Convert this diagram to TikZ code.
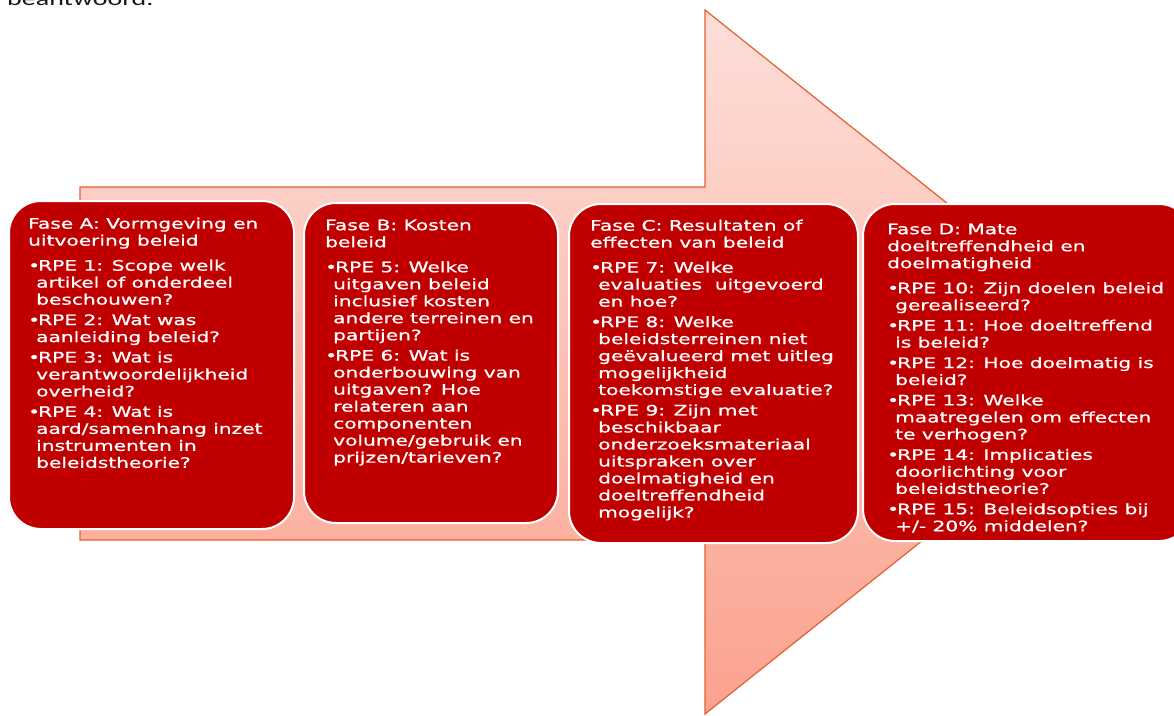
\documentclass[tikz,border=0pt]{standalone}
\usepackage{fontspec}
\usepackage{tikz}
\newfontfamily\fasefont[FakeStretch=1.4,FakeBold=0.8]{DejaVu Sans}
\newfontfamily\bodyfont[FakeStretch=1.4]{Carlito}
\definecolor{faserood}{HTML}{C00000}
\definecolor{pijlrand}{HTML}{E2602F}
\definecolor{pijlboven}{HTML}{FDDED9}
\definecolor{pijlonder}{HTML}{FBA28D}
\newcommand{\opsom}{\makebox[10pt][l]{•}}
\newcommand{\inspr}{\hspace*{8pt}}
\tikzset{
	pijl/.style={draw=pijlrand,line width=1.2pt,top color=pijlboven,bottom color=pijlonder},
	fase/.style={draw=white,line width=2pt,fill=faserood,rounded corners=32pt,anchor=north west,inner sep=0pt},
	fasetekst/.style={text=white,align=left,anchor=north west,inner sep=0pt,font=\fasefont\fontsize{14.4}{17}\selectfont}
}

\begin{document}
\begin{tikzpicture}[x=1pt,y=-1pt]
	\useasboundingbox (0,0) rectangle (1174,715);
	\node[anchor=base west,inner sep=0pt,text=black!90,font=\bodyfont\fontsize{20}{24}\selectfont] (bovenschrift) at (7,5) {beantwoord.};

	% grote pijl
	\draw[pijl] (80,187) -- (705,187) -- (705,10) -- (1146,362) -- (705,714) -- (705,540) -- (80,540) -- cycle;

	\node[fase,minimum width=285pt,minimum height=328pt] (faseA) at (8,200) {};
	\node[fase,minimum width=254pt,minimum height=320pt] (faseB) at (303,202) {};
	\node[fase,minimum width=289pt,minimum height=339pt] (faseC) at (568,203) {};
	\node[fase,minimum width=328pt,minimum height=337pt] (faseD) at (862,203) {};

	\node[fasetekst] (tekstA) at (28,217.5) {Fase A: Vormgeving en\\uitvoering beleid\\[8pt]
		\opsom RPE 1: Scope welk\\ \inspr artikel of onderdeel\\ \inspr beschouwen?\\[3.4pt]
		\opsom RPE 2: Wat was\\ \inspr aanleiding beleid?\\[3.4pt]
		\opsom RPE 3: Wat is\\ \inspr verantwoordelijkheid\\ \inspr overheid?\\[3.4pt]
		\opsom RPE 4: Wat is\\ \inspr aard/samenhang inzet\\ \inspr instrumenten in\\ \inspr beleidstheorie?};
	\node[fasetekst] (tekstB) at (325,219.5) {Fase B: Kosten\\beleid\\[8pt]
		\opsom RPE 5: Welke\\ \inspr uitgaven beleid\\ \inspr inclusief kosten\\ \inspr andere terreinen en\\ \inspr partijen?\\[3.4pt]
		\opsom RPE 6: Wat is\\ \inspr onderbouwing van\\ \inspr uitgaven? Hoe\\ \inspr relateren aan\\ \inspr componenten\\ \inspr volume/gebruik en\\ \inspr prijzen/tarieven?};
	\node[fasetekst] (tekstC) at (590,219.5) {Fase C: Resultaten of\\effecten van beleid\\[8pt]
		\opsom RPE 7: Welke\\ \inspr evaluaties\ \ uitgevoerd\\ \inspr en hoe?\\[3.4pt]
		\opsom RPE 8: Welke\\ \inspr beleidsterreinen niet\\ \inspr geëvalueerd met uitleg\\ \inspr mogelijkheid\\ \inspr toekomstige evaluatie?\\[3.4pt]
		\opsom RPE 9: Zijn met\\ \inspr beschikbaar\\ \inspr onderzoeksmateriaal\\ \inspr uitspraken over\\ \inspr doelmatigheid en\\ \inspr doeltreffendheid\\ \inspr mogelijk?};
	\node[fasetekst] (tekstD) at (887,223.5) {Fase D: Mate\\doeltreffendheid en\\doelmatigheid\\[8pt]
		\opsom RPE 10: Zijn doelen beleid\\ \inspr gerealiseerd?\\[3.4pt]
		\opsom RPE 11: Hoe doeltreffend\\ \inspr is beleid?\\[3.4pt]
		\opsom RPE 12: Hoe doelmatig is\\ \inspr beleid?\\[3.4pt]
		\opsom RPE 13: Welke\\ \inspr maatregelen om effecten\\ \inspr te verhogen?\\[3.4pt]
		\opsom RPE 14: Implicaties\\ \inspr doorlichting voor\\ \inspr beleidstheorie?\\[3.4pt]
		\opsom RPE 15: Beleidsopties bij\\ \inspr +/- 20\% middelen?};
\end{tikzpicture}
\end{document}
